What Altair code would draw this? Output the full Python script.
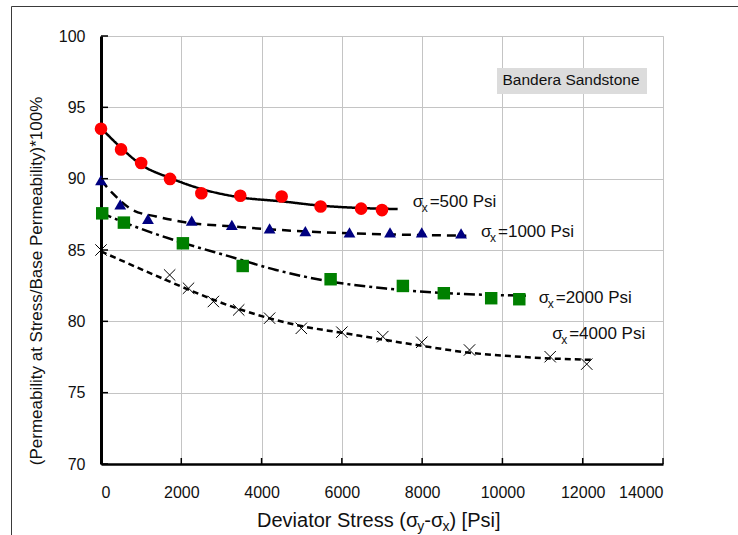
import altair as alt
import pandas as pd

# ---- data ----
s500_x = [0, 500, 1000, 1720, 2500, 3470, 4500, 5470, 6480, 7000]
s500_y = [93.5, 92.05, 91.1, 89.98, 88.98, 88.8, 88.75, 88.05, 87.9, 87.8]
s1000_x = [0, 480, 1170, 2260, 3260, 4200, 5090, 6190, 7200, 7990, 8970]
s1000_y = [89.9, 88.2, 87.18, 87.06, 86.76, 86.52, 86.33, 86.24, 86.24, 86.24, 86.17]
s2000_x = [30, 570, 2040, 3530, 5720, 7520, 8540, 9720, 10420]
s2000_y = [87.57, 86.92, 85.47, 83.88, 82.95, 82.48, 81.97, 81.62, 81.55]
s4000_x = [0, 1710, 2180, 2800, 3430, 4200, 4990, 6000, 7020, 7990, 9180, 11190, 12100]
s4000_y = [85.0, 83.25, 82.32, 81.39, 80.8, 80.22, 79.51, 79.24, 78.93, 78.53, 77.99, 77.52, 77.0]

# fitted trend curves
c500_x = [0, 460, 1000, 1720, 2500, 3470, 4500, 5470, 6480, 7390]
c500_y = [93.55, 92.27, 90.98, 90.05, 89.28, 88.69, 88.41, 88.11, 87.94, 87.87]
c1000_x = [0, 300, 790, 1375, 2200, 3280, 4200, 5500, 7000, 8000, 9100]
c1000_y = [89.9, 88.95, 87.8, 87.35, 86.9, 86.65, 86.45, 86.25, 86.1, 86.05, 86.0]
c2000_x = [0, 790, 2040, 3200, 4360, 5690, 7100, 8430, 9680, 10590]
c2000_y = [87.6, 86.7, 85.5, 84.55, 83.6, 82.8, 82.3, 82.0, 81.85, 81.8]
c4000_x = [0, 1700, 2200, 3450, 5025, 6000, 7020, 8000, 9180, 10260, 11190, 12250]
c4000_y = [84.9, 82.8, 82.2, 80.85, 79.65, 79.2, 78.72, 78.28, 77.8, 77.55, 77.4, 77.3]

series_names = ["500", "1000", "2000", "4000"]
label_x = [7763, 9467, 10904, 11238]
label_y = [88.34, 86.24, 81.66, 79.14]
label_rest = ["=500 Psi", "=1000 Psi", "=2000 Psi", "=4000 Psi"]

x_ticks = [0, 2000, 4000, 6000, 8000, 10000, 12000, 14000]
y_ticks = [70, 75, 80, 85, 90, 95, 100]
y_title = "(Permeability at Stress/Base Permeability)*100%"
xtitle_parts = ["Deviator Stress (σ", "y", "-σ", "x", ") [Psi]"]
box_text = "Bandera Sandstone"

FONT = "Liberation Sans"
W, H = 562, 428

xs = alt.Scale(domain=[0, 14000], nice=False)
ys = alt.Scale(domain=[70, 100], nice=False)
xaxis = alt.Axis(values=x_ticks, format="d", title=None, grid=True, gridColor="#c4c4c4",
                 gridWidth=1, ticks=False, domain=True, domainColor="black", domainWidth=2.5,
                 labelFontSize=16, labelPadding=20, labelColor="#111", labelFont=FONT)
yaxis = alt.Axis(values=y_ticks, title=None, grid=True, gridColor="#c4c4c4", gridWidth=1,
                 ticks=False, domain=True, domainColor="black", domainWidth=3,
                 labelFontSize=16, labelPadding=16, labelColor="#111", labelFont=FONT)


def X(f):
    return alt.X(f + ":Q", scale=xs, axis=xaxis)


def Y(f):
    return alt.Y(f + ":Q", scale=ys, axis=yaxis)


pts = {
    "500": pd.DataFrame({"x": s500_x, "y": s500_y}),
    "1000": pd.DataFrame({"x": s1000_x, "y": s1000_y}),
    "2000": pd.DataFrame({"x": s2000_x, "y": s2000_y}),
    "4000": pd.DataFrame({"x": s4000_x, "y": s4000_y}),
}
curves = pd.concat([
    pd.DataFrame({"x": c500_x, "y": c500_y, "s": "500"}),
    pd.DataFrame({"x": c1000_x, "y": c1000_y, "s": "1000"}),
    pd.DataFrame({"x": c2000_x, "y": c2000_y, "s": "2000"}),
    pd.DataFrame({"x": c4000_x, "y": c4000_y, "s": "4000"}),
])

one = pd.DataFrame({"a": [0]})

outer = alt.Chart(one).mark_rect(fillOpacity=0, stroke="#3a3a3a", strokeWidth=1).encode(
    x=alt.value(-89.5), x2=alt.value(700), y=alt.value(-29.5), y2=alt.value(520))

lines = alt.Chart(curves).mark_line(color="black", strokeWidth=2.5, interpolate="monotone").encode(
    x=X("x"), y=Y("y"), detail="s:N",
    strokeDash=alt.StrokeDash("s:N", scale=alt.Scale(domain=series_names,
                              range=[[1, 0], [9, 6], [11, 4, 3, 4], [6, 4]]), legend=None))

p500 = alt.Chart(pts["500"]).mark_point(shape="circle", filled=True, color="#ff0000", size=160, opacity=1).encode(x=X("x"), y=Y("y"))
p1000 = alt.Chart(pts["1000"]).mark_point(shape="triangle-up", filled=True, color="#000080", size=140, opacity=1).encode(x=X("x"), y=Y("y"))
p2000 = alt.Chart(pts["2000"]).mark_point(shape="square", filled=True, color="#008000", size=155, opacity=1).encode(x=X("x"), y=Y("y"))
p4000 = alt.Chart(pts["4000"]).mark_point(shape="M-1,-1L1,1M-1,1L1,-1", filled=False, color="black",
                                           strokeWidth=1, size=130, opacity=1).encode(x=X("x"), y=Y("y"))

ytk = alt.Chart(pd.DataFrame({"v": y_ticks})).mark_rule(color="black", strokeWidth=1.5).encode(
    y=Y("v"), x=alt.value(0), x2=alt.value(7))
xtk = alt.Chart(pd.DataFrame({"v": x_ticks})).mark_rule(color="black", strokeWidth=1.5).encode(
    x=X("v"), y=alt.value(H), y2=alt.value(H - 6))

labs = pd.DataFrame({"lx": label_x, "ly": label_y, "lt": label_rest})
lab_sig = alt.Chart(labs).mark_text(text="σ", align="left", baseline="middle", fontSize=17, font=FONT, color="#111").encode(x=X("lx"), y=Y("ly"))
lab_sub = alt.Chart(labs).mark_text(text="x", align="left", baseline="middle", fontSize=12, font=FONT, color="#111", dx=9, dy=6).encode(x=X("lx"), y=Y("ly"))
lab_rest = alt.Chart(labs).mark_text(align="left", baseline="middle", fontSize=17, font=FONT, color="#111", dx=17).encode(x=X("lx"), y=Y("ly"), text="lt:N")

box = alt.Chart(one).mark_rect(fill="#dcdcdc").encode(
    x=alt.value(396), x2=alt.value(546), y=alt.value(32), y2=alt.value(58))
box_t = alt.Chart(one).mark_text(text=box_text, align="center", baseline="middle", fontSize=15.5, font=FONT, color="#111").encode(
    x=alt.value(470), y=alt.value(44))

# y-axis title
ytitle = alt.Chart(one).mark_text(text=y_title, angle=270, align="center", baseline="middle",
                                  fontSize=17, font=FONT, color="#111").encode(
    x=alt.value(-64), y=alt.value(245))

# x-axis title composed of pieces (for subscripts)
tx = [156, 316.3, 323.3, 341.4, 348.4]
tsz = [20, 14, 20, 14, 20]
tdy = [0, 6, 0, 6, 0]
title_layers = []
for i, part in enumerate(xtitle_parts):
    title_layers.append(alt.Chart(one).mark_text(text=part, align="left", baseline="middle", fontSize=tsz[i],
                                                 font=FONT, color="#111", dy=tdy[i]).encode(
        x=alt.value(tx[i]), y=alt.value(485)))

chart = alt.layer(outer, box, box_t, lines, p500, p1000, p2000, p4000, ytk, xtk,
                  lab_sig, lab_sub, lab_rest, ytitle, *title_layers).properties(
    width=W, height=H,
    autosize=alt.AutoSizeParams(type="none"),
    padding={"left": 101, "top": 36, "right": 75, "bottom": 71},
    background="white",
).configure_view(stroke="black", strokeWidth=2).configure(font=FONT)

chart.save("out.html", embed_options={"renderer": "svg", "actions": False})
